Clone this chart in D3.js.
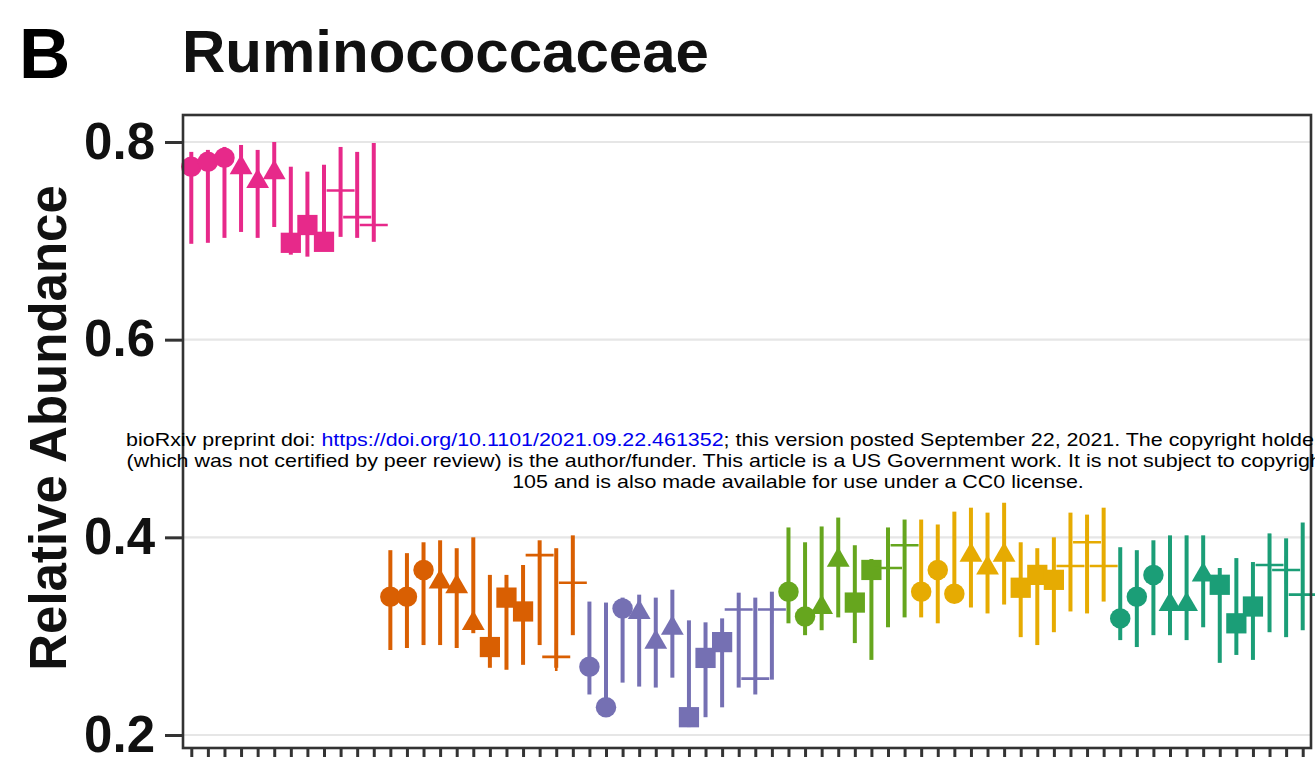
<!DOCTYPE html>
<meta charset="utf-8">
<head>
<style>
  body { margin: 0; background: #fff; }
  svg text { font-family: "Liberation Sans", Arial, Helvetica, sans-serif; }
</style>
</head>
<body>
<div id="my_dataviz"></div>
<script src="https://d3js.org/d3.v7.min.js"></script>
<script>

  // group colours, left to right
  const groupColors = ["#e7298a", "#d95f02", "#7570b3", "#66a61e", "#e6ab02", "#1b9e77"];

  // marker shape of each sample inside a group
  const shapes12 = ["circle","circle","circle","triangle","triangle","triangle","square","square","square","cross","cross","cross"];
  const shapes8 = ["circle","circle","triangle","triangle","square","square","cross","cross"];

  // relative abundance: mean, lower and upper end of the bar
  const pinkMean = [0.775,0.780,0.784,0.774,0.760,0.769,0.698,0.716,0.699,0.751,0.724,0.716];
  const pinkLow  = [0.697,0.698,0.703,0.709,0.703,0.714,0.686,0.684,0.694,0.704,0.703,0.699];
  const pinkHigh = [0.790,0.792,0.795,0.797,0.792,0.800,0.775,0.770,0.777,0.795,0.790,0.799];

  const orangeMean = [0.340,0.340,0.367,0.355,0.350,0.313,0.289,0.339,0.325,0.382,0.279,0.354];
  const orangeLow  = [0.286,0.288,0.291,0.291,0.288,0.303,0.268,0.266,0.271,0.291,0.268,0.301];
  const orangeHigh = [0.387,0.384,0.395,0.397,0.389,0.400,0.362,0.362,0.372,0.397,0.389,0.402];

  const purpleMean = [0.269,0.228,0.328,0.324,0.294,0.308,0.218,0.278,0.294,0.327,0.257,0.327];
  const purpleLow  = [0.241,0.220,0.253,0.249,0.248,0.258,0.208,0.218,0.228,0.248,0.241,0.256];
  const purpleHigh = [0.335,0.334,0.339,0.342,0.339,0.347,0.316,0.314,0.318,0.344,0.339,0.345];

  const greenMean = [0.345,0.320,0.329,0.377,0.334,0.367,0.369,0.392];
  const greenLow  = [0.313,0.301,0.306,0.319,0.293,0.276,0.309,0.319];
  const greenHigh = [0.410,0.395,0.411,0.420,0.392,0.378,0.410,0.418];

  const yellowMean = [0.345,0.367,0.343,0.382,0.369,0.382,0.349,0.362,0.357,0.371,0.395,0.371];
  const yellowLow  = [0.319,0.313,0.334,0.329,0.323,0.332,0.299,0.291,0.304,0.325,0.323,0.335];
  const yellowHigh = [0.418,0.413,0.426,0.430,0.425,0.435,0.395,0.389,0.400,0.425,0.423,0.430];

  const tealMean = [0.318,0.340,0.362,0.332,0.332,0.362,0.352,0.313,0.330,0.372,0.367,0.342];
  const tealLow  = [0.296,0.289,0.301,0.301,0.296,0.309,0.273,0.281,0.276,0.304,0.299,0.306];
  const tealHigh = [0.390,0.387,0.397,0.402,0.402,0.402,0.369,0.379,0.375,0.404,0.399,0.415];

  const yTicks = [0.2, 0.4, 0.6, 0.8];

  // build one row per sample
  const series = [
    [pinkMean, pinkLow, pinkHigh, shapes12],
    [orangeMean, orangeLow, orangeHigh, shapes12],
    [purpleMean, purpleLow, purpleHigh, shapes12],
    [greenMean, greenLow, greenHigh, shapes8],
    [yellowMean, yellowLow, yellowHigh, shapes12],
    [tealMean, tealLow, tealHigh, shapes12]
  ];
  const rows = [];
  series.forEach((s, g) => {
    s[0].forEach((m, i) => {
      rows.push({id: rows.length, group: g, mean: m, low: s[1][i], high: s[2][i], shape: s[3][i]});
    });
  });

  // panel box
  const panel = {left: 183, right: 1311, top: 115, bottom: 748};

  const svg = d3.select("#my_dataviz")
    .append("svg")
      .attr("width", 1315)
      .attr("height", 757);

  svg.append("rect").attr("width", 1315).attr("height", 757).attr("fill", "#fff");

  const x = d3.scalePoint()
    .domain(rows.map(d => d.id))
    .range([panel.left, panel.right])
    .padding(0.5);

  const y = d3.scaleLinear()
    .domain([0.2, 0.8])
    .range([735, 142]);

  // grid lines
  svg.append("g")
    .selectAll("line")
    .data(yTicks)
    .join("line")
      .attr("x1", panel.left).attr("x2", panel.right)
      .attr("y1", d => y(d)).attr("y2", d => y(d))
      .attr("stroke", "#e6e6e6")
      .attr("stroke-width", 2.2);

  // error bars
  svg.append("g")
    .selectAll("line")
    .data(rows)
    .join("line")
      .attr("x1", d => x(d.id)).attr("x2", d => x(d.id))
      .attr("y1", d => y(d.low)).attr("y2", d => y(d.high))
      .attr("stroke", d => groupColors[d.group])
      .attr("stroke-width", 4);

  // markers
  const symbolOf = {circle: d3.symbolCircle, triangle: d3.symbolTriangle, square: d3.symbolSquare};
  const sizeOf = {circle: 330, triangle: 225, square: 410};

  svg.append("g")
    .selectAll("path")
    .data(rows.filter(d => d.shape != "cross"))
    .join("path")
      .attr("d", d => d3.symbol(symbolOf[d.shape], sizeOf[d.shape])())
      .attr("transform", d => `translate(${x(d.id)},${y(d.mean)})`)
      .attr("fill", d => groupColors[d.group]);

  svg.append("g")
    .selectAll("path")
    .data(rows.filter(d => d.shape == "cross"))
    .join("path")
      .attr("d", "M-14,0H14M0,-14V14")
      .attr("transform", d => `translate(${x(d.id)},${y(d.mean)})`)
      .attr("stroke", d => groupColors[d.group])
      .attr("stroke-width", 2.6)
      .attr("fill", "none");

  // panel border
  svg.append("rect")
    .attr("x", panel.left).attr("y", panel.top)
    .attr("width", panel.right - panel.left)
    .attr("height", panel.bottom - panel.top)
    .attr("fill", "none")
    .attr("stroke", "#333")
    .attr("stroke-width", 2.6);

  // y axis
  const yAxis = svg.append("g")
    .attr("transform", `translate(${panel.left},0)`)
    .call(d3.axisLeft(y).tickValues(yTicks).tickFormat(d3.format(".1f")).tickSize(18).tickPadding(10));
  yAxis.select(".domain").remove();
  yAxis.selectAll("line").attr("stroke", "#333").attr("stroke-width", 3);
  yAxis.selectAll("text")
    .attr("font-family", "Liberation Sans, Arial, sans-serif")
    .attr("font-size", 51)
    .attr("font-weight", "bold")
    .attr("fill", "#111");

  // x axis ticks (labels fall outside the picture)
  const xAxis = svg.append("g")
    .attr("transform", `translate(0,${panel.bottom})`)
    .call(d3.axisBottom(x).tickSize(11).tickFormat(""));
  xAxis.select(".domain").remove();
  xAxis.selectAll("line").attr("stroke", "#333").attr("stroke-width", 3);

  // titles
  svg.append("text")
    .attr("x", 19).attr("y", 78)
    .attr("font-size", 71).attr("font-weight", "bold")
    .text("B");

  svg.append("text")
    .attr("x", 182).attr("y", 72)
    .attr("font-size", 60).attr("font-weight", "bold")
    .attr("fill", "#111")
    .text("Ruminococcaceae");

  svg.append("text")
    .attr("transform", "translate(66,428) rotate(-90)")
    .attr("text-anchor", "middle")
    .attr("font-size", 51).attr("font-weight", "bold")
    .attr("fill", "#111")
    .text("Relative Abundance");

  // preprint stamp across the figure
  const stamp = svg.append("g");
  const line1 = stamp.append("text").attr("y", 446);
  line1.append("tspan").text("bioRxiv preprint doi: ");
  line1.append("tspan").attr("fill", "#0000ee").text("https://doi.org/10.1101/2021.09.22.461352");
  line1.append("tspan").text("; this version posted September 22, 2021. The copyright holder for this preprint");
  stamp.append("text").attr("y", 467)
    .text("(which was not certified by peer review) is the author/funder. This article is a US Government work. It is not subject to copyright under 17 USC");
  const line3 = stamp.append("text").attr("y", 488)
    .text("105 and is also made available for use under a CC0 license.");
  stamp.selectAll("text")
    .attr("text-anchor", "middle")
    .attr("font-size", 18)
    .attr("fill", "#000");
  const sx = 572 / line3.node().getComputedTextLength();
  stamp.attr("transform", `translate(798,0) scale(${sx},1)`);

</script>
</body>
